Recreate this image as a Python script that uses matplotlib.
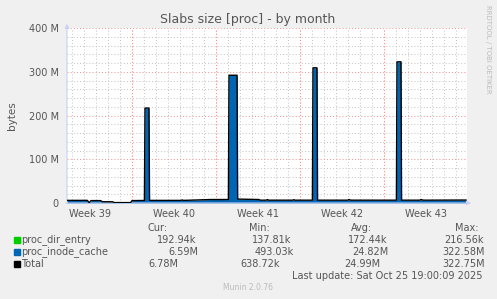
import numpy as np
import matplotlib
matplotlib.use("Agg")
import matplotlib.pyplot as plt

# tempo em dias a partir da borda esquerda do gráfico, valores em MB
days = [0.00, 1.70, 1.85, 2.00, 2.80, 2.95, 3.80, 3.95, 5.30, 5.42, 6.45, 6.50,
        6.83, 6.88, 9.50, 9.60, 9.70, 12.00, 13.45, 13.50, 14.17, 14.22, 16.00,
        16.10, 16.60, 16.70, 16.80, 18.80, 18.90, 19.00, 20.45, 20.50, 20.83,
        20.88, 23.40, 23.50, 23.65, 27.45, 27.50, 27.83, 27.88, 29.40, 29.50,
        29.70, 33.25]
dir_entry = [0.20, 0.20, 0.14, 0.18, 0.18, 0.16, 0.16, 0.14, 0.14, 0.17, 0.17, 0.21,
             0.21, 0.17, 0.17, 0.17, 0.17, 0.17, 0.17, 0.21, 0.21, 0.17, 0.17,
             0.17, 0.17, 0.17, 0.17, 0.17, 0.17, 0.17, 0.17, 0.21, 0.21,
             0.17, 0.17, 0.17, 0.17, 0.17, 0.22, 0.22, 0.17, 0.17, 0.17,
             0.17, 0.19]
inode_cache = [5.8, 5.8, 0.6, 5.3, 5.3, 2.8, 2.6, 0.8, 0.8, 5.3, 5.6, 216.8,
               216.8, 5.8, 5.8, 6.8, 5.8, 7.8, 7.8, 291.8, 291.8, 8.8, 7.8,
               6.3, 6.3, 7.8, 6.3, 6.3, 7.3, 6.3, 6.3, 308.8, 308.8,
               6.3, 6.3, 7.8, 6.3, 6.3, 322.5, 322.5, 6.3, 6.3, 7.8,
               6.3, 6.6]

week_labels = ["Week 39", "Week 40", "Week 41", "Week 42", "Week 43"]
first_monday = 5.42
span = 400 / 12.0

legend_names = ["proc_dir_entry", "proc_inode_cache", "Total"]
legend_colors = ["#00CC00", "#0066B3", "#000000"]
cur = ["192.94k", "6.59M", "6.78M"]
mins = ["137.81k", "493.03k", "638.72k"]
avgs = ["172.44k", "24.82M", "24.99M"]
maxs = ["216.56k", "322.58M", "322.75M"]

W, H = 497, 299
txt = "#555555"

fig = plt.figure(figsize=(W / 100, H / 100), dpi=100, facecolor="#F0F0F0")
ax = fig.add_axes([67 / W, 96 / H, 400 / W, 175 / H])
ax.set_facecolor("white")

d = np.array(days)
de = np.array(dir_entry)
ic = np.array(inode_cache)
ax.fill_between(d, 0, de, color="#00CC00", lw=0, zorder=3)
ax.fill_between(d, de, de + ic, color="#0066B3", lw=0, zorder=3)
ax.plot(d, de + ic, color="black", lw=1.0, zorder=4)

ax.set_xlim(0, span)
ax.set_ylim(0, 400)

# grade
minor_c = "#C8C8C8"
major_c = "#EE9A9A"
for y in range(20, 400, 20):
    if y % 100:
        ax.axhline(y, color=minor_c, lw=0.75, dashes=(1, 2), zorder=1)
for x in np.arange(first_monday - 5, span, 1.0):
    ax.axvline(x, color=minor_c, lw=0.75, dashes=(1, 2), zorder=1)
for y in (100, 200, 300, 400):
    ax.axhline(y, color=major_c, lw=0.75, dashes=(1, 2), zorder=2)
for k in range(4):
    ax.axvline(first_monday + 7 * k, color=major_c, lw=0.75, dashes=(1, 2), zorder=2)

for s in ax.spines.values():
    s.set_visible(False)
ax.set_yticks([0, 100, 200, 300, 400])
ax.set_yticklabels(["0", "100 M", "200 M", "300 M", "400 M"], fontsize=7, color=txt)
ax.set_xticks([first_monday - 3.5 + 7 * k for k in range(5)])
ax.set_xticklabels(week_labels, fontsize=7, color=txt)
ax.tick_params(length=0, pad=4)
ax.tick_params(axis="y", pad=6)
ax.set_ylabel("bytes", fontsize=7.5, color=txt, labelpad=8)

# eixos com setas
axis_c = "#C8D0F8"
ax.annotate("", xy=(0, 1.04), xytext=(0, 0), xycoords="axes fraction",
            arrowprops=dict(arrowstyle="-|>", color=axis_c, lw=0.8, mutation_scale=6))
ax.annotate("", xy=(1.017, 0), xytext=(-0.01, 0), xycoords="axes fraction",
            arrowprops=dict(arrowstyle="-|>", color=axis_c, lw=0.8, mutation_scale=6))

def px(x, y):
    return x / W, 1 - y / H

fig.text(*px(248, 19), "Slabs size [proc] - by month", fontsize=9, color=txt,
         ha="center", va="center")
fig.text(*px(488, 5), "RRDTOOL / TOBI OETIKER", fontsize=5, color="#BBBBBB",
         rotation=-90, ha="center", va="top")

fs = 7
for x, h in zip((147, 249, 351, 455), ("Cur:", "Min:", "Avg:", "Max:")):
    fig.text(*px(x, 228), h, fontsize=fs, color=txt, va="center")
rows_y = (240, 252, 264)
cur_x = (157, 168, 148)
min_x = (252, 255, 240)
avg_x = (348, 352, 344)
max_x = (444, 442, 442)
for i, name in enumerate(legend_names):
    y = rows_y[i]
    fig.patches.append(plt.Rectangle(px(14, y + 3), 6 / W, 6 / H, color=legend_colors[i],
                                     transform=fig.transFigure, figure=fig))
    fig.text(*px(21, y), name, fontsize=fs, color=txt, va="center")
    fig.text(*px(cur_x[i], y), cur[i], fontsize=fs, color=txt, va="center")
    fig.text(*px(min_x[i], y), mins[i], fontsize=fs, color=txt, va="center")
    fig.text(*px(avg_x[i], y), avgs[i], fontsize=fs, color=txt, va="center")
    fig.text(*px(max_x[i], y), maxs[i], fontsize=fs, color=txt, va="center")

fig.text(*px(483, 276), "Last update: Sat Oct 25 19:00:09 2025", fontsize=fs, color=txt,
         ha="right", va="center")
fig.text(*px(248, 288), "Munin 2.0.76", fontsize=5.5, color="#BBBBBB", ha="center", va="center")

fig.savefig("out.png", dpi=100, facecolor=fig.get_facecolor())
